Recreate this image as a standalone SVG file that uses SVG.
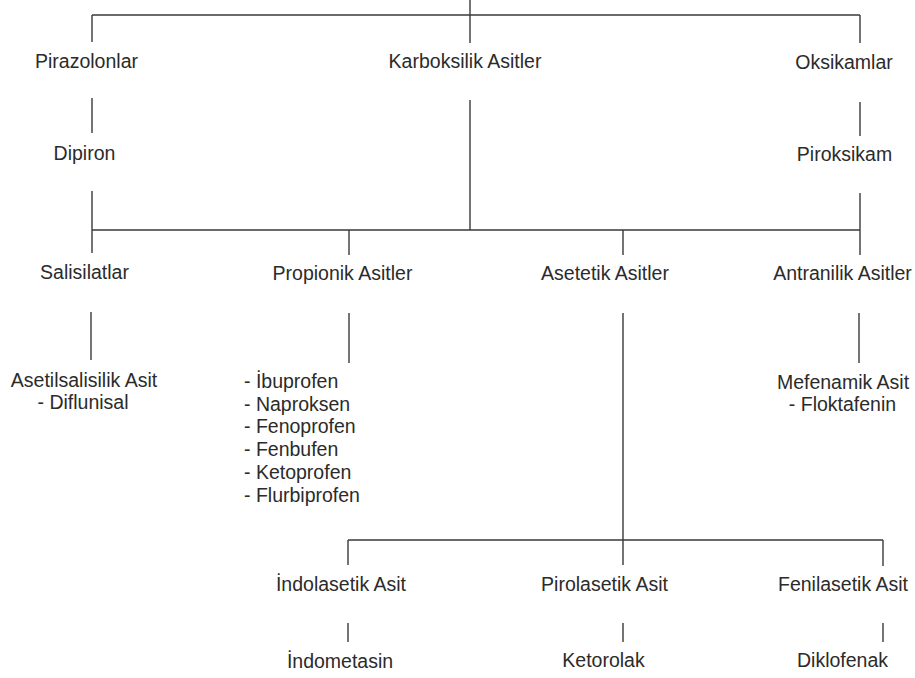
<svg xmlns="http://www.w3.org/2000/svg" width="915" height="678" viewBox="0 0 915 678">
<style>
text{font-family:"Liberation Sans",Arial,sans-serif;font-size:19.5px;fill:#2b2b2b}
.c{text-anchor:middle}
.ln{stroke:#3a3a3a;stroke-width:1.4;fill:none}
</style>
<rect width="915" height="678" fill="#ffffff"/>
<g id="connectors" class="ln">
<path d="M470 0V43M92 15H860M92 15V42M860 15V43"/>
<path d="M92 98V133M92 191V253M860 102V136M860 193V255M470 100V230M92 230H860M349 230V255M623 230V255"/>
<path d="M91 312V360M349 313V363M859 313V363M623 313V540"/>
<path d="M348 540H883M348 540V565M623 540V565M883 540V566"/>
<path d="M348 623V642M623 623V642M883 623V642"/>
</g>
<g id="pirazolonlar"><text class="c" x="86.5" y="68">Pirazolonlar</text></g>
<g id="karboksilik"><text class="c" x="465" y="68">Karboksilik Asitler</text></g>
<g id="oksikamlar"><text class="c" x="844" y="69">Oksikamlar</text></g>
<g id="dipiron"><text class="c" x="84.5" y="160">Dipiron</text></g>
<g id="piroksikam"><text class="c" x="844.5" y="161">Piroksikam</text></g>
<g id="salisilatlar"><text class="c" x="84.5" y="279">Salisilatlar</text></g>
<g id="propionik"><text class="c" x="342.5" y="280">Propionik Asitler</text></g>
<g id="asetetik"><text class="c" x="605" y="280">Asetetik Asitler</text></g>
<g id="antranilik"><text class="c" x="842.5" y="280">Antranilik Asitler</text></g>
<g id="salisilat-ilac"><text class="c" x="84" y="387">Asetilsalisilik Asit</text><text class="c" x="83" y="409">- Diflunisal</text></g>
<g id="propionik-ilac">
<text x="244" y="388">- İbuprofen</text>
<text x="244" y="410.7">- Naproksen</text>
<text x="244" y="433.4">- Fenoprofen</text>
<text x="244" y="456">- Fenbufen</text>
<text x="244" y="478.8">- Ketoprofen</text>
<text x="244" y="501.5">- Flurbiprofen</text>
</g>
<g id="antranilik-ilac"><text class="c" x="843" y="389">Mefenamik Asit</text><text class="c" x="842.5" y="411">- Floktafenin</text></g>
<g id="indolasetik"><text class="c" x="341" y="591">İndolasetik Asit</text></g>
<g id="pirolasetik"><text class="c" x="604.5" y="591">Pirolasetik Asit</text></g>
<g id="fenilasetik"><text class="c" x="843" y="591">Fenilasetik Asit</text></g>
<g id="indometasin"><text class="c" x="340" y="668">İndometasin</text></g>
<g id="ketorolak"><text class="c" x="603.5" y="667">Ketorolak</text></g>
<g id="diklofenak"><text class="c" x="842.5" y="667">Diklofenak</text></g>
</svg>
